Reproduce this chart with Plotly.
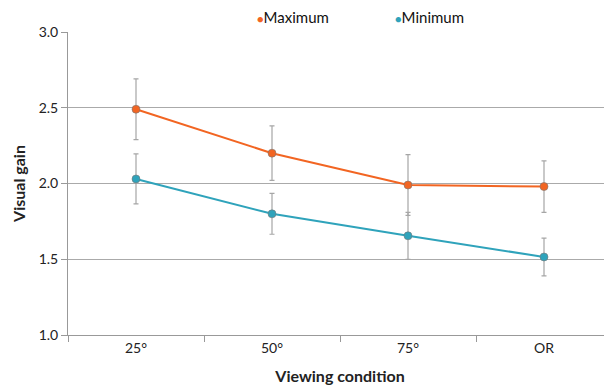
import plotly.graph_objects as go

categories = ["25°", "50°", "75°", "OR"]
maximum = [2.49, 2.20, 1.99, 1.98]
maximum_err = [0.20, 0.18, 0.20, 0.17]
minimum = [2.03, 1.80, 1.655, 1.515]
minimum_err = [0.165, 0.135, 0.155, 0.125]
y_ticks = [1.0, 1.5, 2.0, 2.5, 3.0]
y_ticktext = ["1.0", "1.5", "2.0", "2.5", "3.0"]

FONT = "Lato, 'Open Sans', sans-serif"
ORANGE = "#F26522"
TEAL = "#2FA3BB"
ERR = "#A6A6A6"

series = [("Maximum", maximum, maximum_err, ORANGE, 0.343),
          ("Minimum", minimum, minimum_err, TEAL, 0.598)]

fig = go.Figure()
for name, vals, errs, col, lx in series:
    fig.add_trace(go.Scatter(
        x=categories, y=vals, name=name, mode="lines+markers", showlegend=False,
        line=dict(color=col, width=2),
        marker=dict(color=col, size=8, line=dict(color="#777777", width=0.6)),
        error_y=dict(type="data", array=errs, visible=True, color=ERR,
                     thickness=1.2, width=2.5),
    ))
    # legend entry: small dot followed by the series name
    fig.add_annotation(
        xref="paper", yref="paper", x=lx, y=1.0, xanchor="left", yanchor="middle",
        yshift=15, showarrow=False,
        text=f"<span style='color:{col};font-size:11px'>●</span>{name}",
        font=dict(size=15, color="#111111", family=FONT),
    )

fig.update_layout(
    width=612, height=391,
    margin=dict(l=60, r=8, t=24, b=64, autoexpand=False),
    paper_bgcolor="white", plot_bgcolor="white",
    font=dict(family=FONT, size=14, color="#222222"),
    showlegend=False,
    xaxis=dict(
        type="category", tickson="boundaries", ticks="outside", ticklen=6,
        tickcolor="#999999", showline=True, linecolor="#999999", linewidth=1,
        showgrid=False, tickfont=dict(size=14),
        title=dict(text="<b>Viewing condition</b>", font=dict(size=16), standoff=16),
        range=[-0.5, 3.5], automargin=False,
    ),
    yaxis=dict(
        range=[1.0, 3.0], tickvals=y_ticks, ticktext=y_ticktext,
        ticks="outside", ticklen=6, tickcolor="#999999",
        showline=True, linecolor="#999999", linewidth=1,
        showgrid=True, gridcolor="#AAAAAA", gridwidth=1, zeroline=False,
        tickfont=dict(size=14), automargin=False,
        title=dict(text="<b>Visual gain</b>", font=dict(size=16), standoff=9),
    ),
)

fig.write_html("out.html")
